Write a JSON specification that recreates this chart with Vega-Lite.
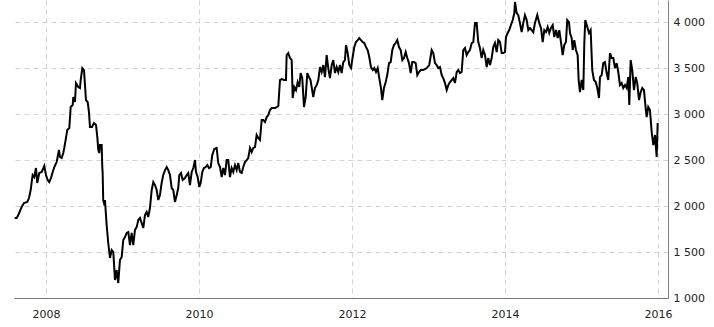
{
  "$schema": "https://vega.github.io/schema/vega-lite/v6.json",
  "width": 654,
  "height": 298,
  "autosize": {"type": "none"},
  "padding": {"left": 14, "top": 0, "right": 46, "bottom": 29},
  "background": "white",
  "config": {
    "view": {"stroke": null},
    "axis": {
      "labelFont": "DejaVu Sans",
      "labelFontSize": 11,
      "labelColor": "#222",
      "ticks": false,
      "gridColor": "#d4d4d4",
      "gridDash": [5, 4],
      "gridWidth": 1,
      "domainColor": "#808080",
      "domainWidth": 1,
      "title": null
    }
  },
  "data": {
    "values": [
      {"year": 2007.591, "value": 1870}, {"year": 2007.617, "value": 1870}, {"year": 2007.638, "value": 1902},
      {"year": 2007.682, "value": 1989}, {"year": 2007.712, "value": 2033}, {"year": 2007.756, "value": 2044},
      {"year": 2007.778, "value": 2087}, {"year": 2007.8, "value": 2174}, {"year": 2007.813, "value": 2261},
      {"year": 2007.826, "value": 2337}, {"year": 2007.847, "value": 2315}, {"year": 2007.869, "value": 2413},
      {"year": 2007.886, "value": 2250}, {"year": 2007.912, "value": 2359}, {"year": 2007.944, "value": 2370},
      {"year": 2007.978, "value": 2435}, {"year": 2008.0, "value": 2337}, {"year": 2008.022, "value": 2283},
      {"year": 2008.043, "value": 2261}, {"year": 2008.065, "value": 2304}, {"year": 2008.088, "value": 2370},
      {"year": 2008.109, "value": 2424}, {"year": 2008.14, "value": 2478}, {"year": 2008.17, "value": 2609},
      {"year": 2008.183, "value": 2533}, {"year": 2008.205, "value": 2522}, {"year": 2008.226, "value": 2576},
      {"year": 2008.239, "value": 2631}, {"year": 2008.261, "value": 2739}, {"year": 2008.278, "value": 2826},
      {"year": 2008.305, "value": 2848}, {"year": 2008.323, "value": 3076}, {"year": 2008.349, "value": 3098},
      {"year": 2008.357, "value": 3185}, {"year": 2008.379, "value": 3131}, {"year": 2008.392, "value": 3337},
      {"year": 2008.422, "value": 3294}, {"year": 2008.444, "value": 3283}, {"year": 2008.454, "value": 3370},
      {"year": 2008.475, "value": 3500}, {"year": 2008.497, "value": 3478}, {"year": 2008.523, "value": 3152},
      {"year": 2008.545, "value": 3131}, {"year": 2008.562, "value": 3022}, {"year": 2008.575, "value": 2859},
      {"year": 2008.601, "value": 2859}, {"year": 2008.627, "value": 2902}, {"year": 2008.654, "value": 2881},
      {"year": 2008.671, "value": 2750}, {"year": 2008.684, "value": 2609}, {"year": 2008.697, "value": 2576},
      {"year": 2008.706, "value": 2663}, {"year": 2008.728, "value": 2663}, {"year": 2008.736, "value": 2424},
      {"year": 2008.741, "value": 2359}, {"year": 2008.748, "value": 2065}, {"year": 2008.758, "value": 2033},
      {"year": 2008.771, "value": 2065}, {"year": 2008.793, "value": 1794}, {"year": 2008.814, "value": 1598},
      {"year": 2008.837, "value": 1435}, {"year": 2008.859, "value": 1522}, {"year": 2008.88, "value": 1500},
      {"year": 2008.902, "value": 1196}, {"year": 2008.924, "value": 1304}, {"year": 2008.945, "value": 1163},
      {"year": 2008.967, "value": 1413}, {"year": 2008.99, "value": 1446}, {"year": 2009.01, "value": 1630},
      {"year": 2009.033, "value": 1663}, {"year": 2009.055, "value": 1707}, {"year": 2009.076, "value": 1717},
      {"year": 2009.098, "value": 1576}, {"year": 2009.12, "value": 1707}, {"year": 2009.141, "value": 1576},
      {"year": 2009.163, "value": 1739}, {"year": 2009.186, "value": 1772}, {"year": 2009.207, "value": 1848},
      {"year": 2009.229, "value": 1870}, {"year": 2009.251, "value": 1815}, {"year": 2009.272, "value": 1761},
      {"year": 2009.294, "value": 1902}, {"year": 2009.316, "value": 1935}, {"year": 2009.337, "value": 1880},
      {"year": 2009.359, "value": 1978}, {"year": 2009.382, "value": 2174}, {"year": 2009.403, "value": 2261},
      {"year": 2009.425, "value": 2228}, {"year": 2009.447, "value": 2174}, {"year": 2009.468, "value": 2065},
      {"year": 2009.49, "value": 2120}, {"year": 2009.512, "value": 2250}, {"year": 2009.533, "value": 2337},
      {"year": 2009.556, "value": 2391}, {"year": 2009.578, "value": 2424}, {"year": 2009.599, "value": 2391},
      {"year": 2009.621, "value": 2337}, {"year": 2009.643, "value": 2196}, {"year": 2009.664, "value": 2174},
      {"year": 2009.686, "value": 2044}, {"year": 2009.709, "value": 2120}, {"year": 2009.729, "value": 2196},
      {"year": 2009.743, "value": 2337}, {"year": 2009.765, "value": 2359}, {"year": 2009.787, "value": 2283},
      {"year": 2009.817, "value": 2304}, {"year": 2009.839, "value": 2337}, {"year": 2009.86, "value": 2359},
      {"year": 2009.882, "value": 2228}, {"year": 2009.905, "value": 2370}, {"year": 2009.926, "value": 2413},
      {"year": 2009.948, "value": 2500}, {"year": 2009.961, "value": 2370}, {"year": 2009.983, "value": 2315},
      {"year": 2010.004, "value": 2207}, {"year": 2010.022, "value": 2250}, {"year": 2010.043, "value": 2370},
      {"year": 2010.065, "value": 2413}, {"year": 2010.088, "value": 2424}, {"year": 2010.109, "value": 2446},
      {"year": 2010.131, "value": 2413}, {"year": 2010.153, "value": 2424}, {"year": 2010.174, "value": 2554},
      {"year": 2010.2, "value": 2620}, {"year": 2010.231, "value": 2631}, {"year": 2010.252, "value": 2467},
      {"year": 2010.275, "value": 2424}, {"year": 2010.297, "value": 2315}, {"year": 2010.318, "value": 2413},
      {"year": 2010.34, "value": 2337}, {"year": 2010.362, "value": 2500}, {"year": 2010.383, "value": 2500},
      {"year": 2010.405, "value": 2315}, {"year": 2010.427, "value": 2413}, {"year": 2010.448, "value": 2370},
      {"year": 2010.471, "value": 2446}, {"year": 2010.493, "value": 2391}, {"year": 2010.514, "value": 2467},
      {"year": 2010.536, "value": 2370}, {"year": 2010.558, "value": 2359}, {"year": 2010.579, "value": 2424},
      {"year": 2010.601, "value": 2478}, {"year": 2010.624, "value": 2500}, {"year": 2010.644, "value": 2522},
      {"year": 2010.667, "value": 2631}, {"year": 2010.689, "value": 2587}, {"year": 2010.71, "value": 2631},
      {"year": 2010.732, "value": 2641}, {"year": 2010.754, "value": 2772}, {"year": 2010.775, "value": 2739},
      {"year": 2010.797, "value": 2717}, {"year": 2010.82, "value": 2935}, {"year": 2010.841, "value": 2935},
      {"year": 2010.863, "value": 2913}, {"year": 2010.885, "value": 2967}, {"year": 2010.906, "value": 2989},
      {"year": 2010.928, "value": 3044}, {"year": 2010.95, "value": 3065}, {"year": 2010.971, "value": 3065},
      {"year": 2010.994, "value": 3065}, {"year": 2011.016, "value": 3076}, {"year": 2011.037, "value": 3087},
      {"year": 2011.059, "value": 3370}, {"year": 2011.081, "value": 3380}, {"year": 2011.111, "value": 3370},
      {"year": 2011.137, "value": 3370}, {"year": 2011.146, "value": 3641}, {"year": 2011.167, "value": 3663},
      {"year": 2011.19, "value": 3609}, {"year": 2011.212, "value": 3587}, {"year": 2011.225, "value": 3174},
      {"year": 2011.246, "value": 3294}, {"year": 2011.268, "value": 3261}, {"year": 2011.29, "value": 3348},
      {"year": 2011.311, "value": 3294}, {"year": 2011.329, "value": 3446}, {"year": 2011.35, "value": 3391},
      {"year": 2011.373, "value": 3076}, {"year": 2011.395, "value": 3185}, {"year": 2011.416, "value": 3446},
      {"year": 2011.438, "value": 3402}, {"year": 2011.458, "value": 3370}, {"year": 2011.494, "value": 3185},
      {"year": 2011.516, "value": 3283}, {"year": 2011.539, "value": 3315}, {"year": 2011.56, "value": 3370},
      {"year": 2011.582, "value": 3511}, {"year": 2011.604, "value": 3457}, {"year": 2011.625, "value": 3533},
      {"year": 2011.647, "value": 3402}, {"year": 2011.669, "value": 3641}, {"year": 2011.69, "value": 3500},
      {"year": 2011.712, "value": 3391}, {"year": 2011.735, "value": 3533}, {"year": 2011.756, "value": 3587},
      {"year": 2011.778, "value": 3446}, {"year": 2011.8, "value": 3511}, {"year": 2011.821, "value": 3457},
      {"year": 2011.843, "value": 3533}, {"year": 2011.865, "value": 3446}, {"year": 2011.886, "value": 3565},
      {"year": 2011.908, "value": 3587}, {"year": 2011.922, "value": 3750}, {"year": 2011.944, "value": 3663},
      {"year": 2011.965, "value": 3533}, {"year": 2011.987, "value": 3500}, {"year": 2012.009, "value": 3620},
      {"year": 2012.03, "value": 3728}, {"year": 2012.052, "value": 3783}, {"year": 2012.075, "value": 3804},
      {"year": 2012.095, "value": 3826}, {"year": 2012.118, "value": 3804}, {"year": 2012.14, "value": 3783},
      {"year": 2012.161, "value": 3772}, {"year": 2012.183, "value": 3728}, {"year": 2012.205, "value": 3696},
      {"year": 2012.226, "value": 3620}, {"year": 2012.248, "value": 3511}, {"year": 2012.271, "value": 3478},
      {"year": 2012.292, "value": 3500}, {"year": 2012.314, "value": 3457}, {"year": 2012.336, "value": 3500},
      {"year": 2012.357, "value": 3391}, {"year": 2012.379, "value": 3283}, {"year": 2012.396, "value": 3152},
      {"year": 2012.418, "value": 3283}, {"year": 2012.441, "value": 3348}, {"year": 2012.461, "value": 3424},
      {"year": 2012.484, "value": 3554}, {"year": 2012.506, "value": 3565}, {"year": 2012.527, "value": 3696},
      {"year": 2012.549, "value": 3750}, {"year": 2012.571, "value": 3772}, {"year": 2012.592, "value": 3804},
      {"year": 2012.614, "value": 3728}, {"year": 2012.637, "value": 3696}, {"year": 2012.658, "value": 3587},
      {"year": 2012.68, "value": 3609}, {"year": 2012.702, "value": 3674}, {"year": 2012.723, "value": 3609},
      {"year": 2012.745, "value": 3554}, {"year": 2012.767, "value": 3446}, {"year": 2012.788, "value": 3565},
      {"year": 2012.81, "value": 3565}, {"year": 2012.833, "value": 3554}, {"year": 2012.854, "value": 3424},
      {"year": 2012.876, "value": 3457}, {"year": 2012.898, "value": 3478}, {"year": 2012.932, "value": 3478},
      {"year": 2012.977, "value": 3500}, {"year": 2013.01, "value": 3533}, {"year": 2013.042, "value": 3696},
      {"year": 2013.063, "value": 3663}, {"year": 2013.085, "value": 3554}, {"year": 2013.107, "value": 3533},
      {"year": 2013.128, "value": 3500}, {"year": 2013.15, "value": 3511}, {"year": 2013.173, "value": 3424},
      {"year": 2013.193, "value": 3391}, {"year": 2013.216, "value": 3337}, {"year": 2013.238, "value": 3261},
      {"year": 2013.259, "value": 3315}, {"year": 2013.281, "value": 3348}, {"year": 2013.303, "value": 3370},
      {"year": 2013.324, "value": 3391}, {"year": 2013.346, "value": 3337}, {"year": 2013.369, "value": 3457},
      {"year": 2013.39, "value": 3478}, {"year": 2013.412, "value": 3446}, {"year": 2013.434, "value": 3457},
      {"year": 2013.455, "value": 3696}, {"year": 2013.477, "value": 3718}, {"year": 2013.499, "value": 3641},
      {"year": 2013.52, "value": 3674}, {"year": 2013.542, "value": 3696}, {"year": 2013.565, "value": 3772},
      {"year": 2013.586, "value": 3783}, {"year": 2013.608, "value": 3989}, {"year": 2013.63, "value": 3989},
      {"year": 2013.651, "value": 3783}, {"year": 2013.673, "value": 3718}, {"year": 2013.695, "value": 3609},
      {"year": 2013.716, "value": 3696}, {"year": 2013.739, "value": 3641}, {"year": 2013.761, "value": 3511},
      {"year": 2013.782, "value": 3609}, {"year": 2013.804, "value": 3533}, {"year": 2013.826, "value": 3609},
      {"year": 2013.847, "value": 3728}, {"year": 2013.869, "value": 3772}, {"year": 2013.892, "value": 3674},
      {"year": 2013.912, "value": 3804}, {"year": 2013.935, "value": 3783}, {"year": 2013.957, "value": 3663},
      {"year": 2013.978, "value": 3663}, {"year": 2014.0, "value": 3674}, {"year": 2014.013, "value": 3837},
      {"year": 2014.035, "value": 3881}, {"year": 2014.056, "value": 3913}, {"year": 2014.078, "value": 3968},
      {"year": 2014.101, "value": 4022}, {"year": 2014.122, "value": 4098}, {"year": 2014.131, "value": 4218},
      {"year": 2014.153, "value": 4098}, {"year": 2014.174, "value": 4076}, {"year": 2014.196, "value": 3989},
      {"year": 2014.218, "value": 3891}, {"year": 2014.239, "value": 3989}, {"year": 2014.261, "value": 4076},
      {"year": 2014.284, "value": 4022}, {"year": 2014.305, "value": 3913}, {"year": 2014.327, "value": 3935},
      {"year": 2014.37, "value": 3891}, {"year": 2014.392, "value": 3989}, {"year": 2014.422, "value": 4076},
      {"year": 2014.448, "value": 3989}, {"year": 2014.471, "value": 3935}, {"year": 2014.493, "value": 3783},
      {"year": 2014.514, "value": 3913}, {"year": 2014.536, "value": 3891}, {"year": 2014.558, "value": 3946},
      {"year": 2014.579, "value": 3881}, {"year": 2014.601, "value": 3935}, {"year": 2014.624, "value": 3968},
      {"year": 2014.644, "value": 3837}, {"year": 2014.667, "value": 3913}, {"year": 2014.689, "value": 3826},
      {"year": 2014.71, "value": 3913}, {"year": 2014.732, "value": 3783}, {"year": 2014.754, "value": 3641},
      {"year": 2014.775, "value": 3750}, {"year": 2014.797, "value": 3783}, {"year": 2014.814, "value": 4022},
      {"year": 2014.837, "value": 4000}, {"year": 2014.85, "value": 3881}, {"year": 2014.872, "value": 3826},
      {"year": 2014.885, "value": 3696}, {"year": 2014.906, "value": 3804}, {"year": 2014.928, "value": 3696},
      {"year": 2014.95, "value": 3641}, {"year": 2014.963, "value": 3370}, {"year": 2014.98, "value": 3239},
      {"year": 2015.003, "value": 3370}, {"year": 2015.024, "value": 3261}, {"year": 2015.037, "value": 3772},
      {"year": 2015.05, "value": 4022}, {"year": 2015.076, "value": 3946}, {"year": 2015.098, "value": 3881},
      {"year": 2015.12, "value": 3913}, {"year": 2015.141, "value": 3478}, {"year": 2015.163, "value": 3370},
      {"year": 2015.186, "value": 3348}, {"year": 2015.207, "value": 3283}, {"year": 2015.229, "value": 3174},
      {"year": 2015.242, "value": 3402}, {"year": 2015.264, "value": 3424}, {"year": 2015.285, "value": 3554},
      {"year": 2015.307, "value": 3565}, {"year": 2015.329, "value": 3446}, {"year": 2015.35, "value": 3370},
      {"year": 2015.373, "value": 3663}, {"year": 2015.395, "value": 3609}, {"year": 2015.416, "value": 3609},
      {"year": 2015.438, "value": 3500}, {"year": 2015.46, "value": 3554}, {"year": 2015.481, "value": 3457},
      {"year": 2015.503, "value": 3315}, {"year": 2015.525, "value": 3337}, {"year": 2015.546, "value": 3283},
      {"year": 2015.569, "value": 3315}, {"year": 2015.591, "value": 3283}, {"year": 2015.612, "value": 3402},
      {"year": 2015.625, "value": 3098}, {"year": 2015.643, "value": 3587}, {"year": 2015.664, "value": 3478},
      {"year": 2015.686, "value": 3261}, {"year": 2015.709, "value": 3402}, {"year": 2015.729, "value": 3337},
      {"year": 2015.752, "value": 3152}, {"year": 2015.774, "value": 3239}, {"year": 2015.795, "value": 3283},
      {"year": 2015.817, "value": 3261}, {"year": 2015.839, "value": 3065}, {"year": 2015.852, "value": 2967},
      {"year": 2015.873, "value": 3076}, {"year": 2015.895, "value": 3044}, {"year": 2015.918, "value": 2804},
      {"year": 2015.939, "value": 2663}, {"year": 2015.961, "value": 2772}, {"year": 2015.983, "value": 2533},
      {"year": 2015.996, "value": 2902}
    ]
  },
  "mark": {"type": "line", "color": "#000000", "strokeWidth": 2, "interpolate": "linear"},
  "encoding": {
    "x": {
      "field": "year",
      "type": "quantitative",
      "scale": {"domain": [2007.582, 2016.131], "nice": false, "zero": false},
      "axis": {
        "values": [2008, 2010, 2012, 2014, 2016],
        "format": "d",
        "labelPadding": 10,
        "labelFlush": false,
        "domainColor": "#777777"
      }
    },
    "y": {
      "field": "value",
      "type": "quantitative",
      "scale": {"domain": [1000, 4240], "nice": false, "zero": false},
      "axis": {
        "orient": "right",
        "values": [1000, 1500, 2000, 2500, 3000, 3500, 4000],
        "labelExpr": "replace(format(datum.value, ','), ',', ' ')",
        "labelPadding": 5,
        "labelFlush": false
      }
    }
  }
}
